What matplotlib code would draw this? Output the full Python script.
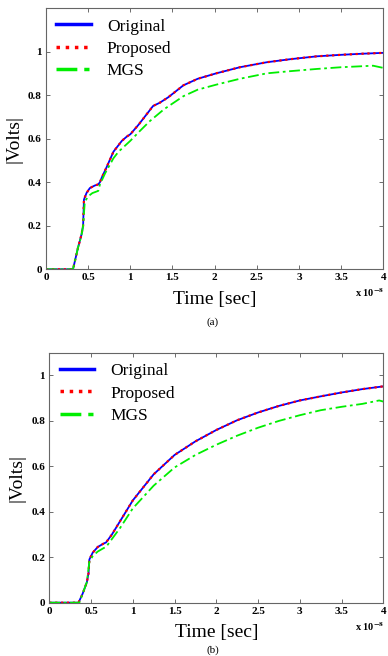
import numpy as np
import matplotlib
matplotlib.use("Agg")
import matplotlib.pyplot as plt

plt.rcParams["font.family"] = ["Liberation Serif", "DejaVu Serif"]
plt.rcParams["mathtext.fontset"] = "stix"

# ===== panel (a) =====
t_a_orig = [0, 0.32, 0.35, 0.38, 0.42, 0.44, 0.45, 0.48, 0.52, 0.58, 0.62, 0.64, 0.66, 0.72,
            0.8, 0.9, 0.96, 1.0, 1.1, 1.2, 1.27, 1.35, 1.45, 1.63, 1.8, 2.02, 2.3, 2.62, 2.9,
            3.21, 3.5, 3.75, 4.0]
v_a_orig = [0, 0, 0.05, 0.10, 0.158, 0.2, 0.32, 0.35, 0.373, 0.385, 0.39, 0.40, 0.42, 0.47,
            0.54, 0.59, 0.61, 0.62, 0.665, 0.715, 0.75, 0.765, 0.79, 0.845, 0.875, 0.90, 0.928,
            0.951, 0.965, 0.978, 0.985, 0.99, 0.994]
t_a_mgs = [0, 0.32, 0.35, 0.38, 0.42, 0.44, 0.46, 0.5, 0.55, 0.62, 0.64, 0.7, 0.8, 0.86, 1.0,
           1.1, 1.23, 1.4, 1.63, 1.8, 2.02, 2.3, 2.62, 2.9, 3.21, 3.5, 3.88, 4.0]
v_a_mgs = [0, 0, 0.05, 0.10, 0.155, 0.2, 0.31, 0.335, 0.35, 0.36, 0.39, 0.44, 0.51, 0.54, 0.59,
           0.63, 0.68, 0.735, 0.795, 0.825, 0.848, 0.875, 0.90, 0.91, 0.92, 0.928, 0.935, 0.925]

# ===== panel (b) =====
t_b_orig = [0, 0.35, 0.4, 0.45, 0.47, 0.48, 0.52, 0.58, 0.65, 0.68, 0.75, 0.85, 1.0, 1.25, 1.5,
            1.75, 2.0, 2.25, 2.5, 2.75, 3.0, 3.25, 3.5, 3.75, 4.0]
v_b_orig = [0, 0, 0.04, 0.09, 0.13, 0.19, 0.22, 0.245, 0.26, 0.265, 0.3, 0.36, 0.45, 0.565, 0.65,
            0.71, 0.76, 0.803, 0.837, 0.866, 0.89, 0.908, 0.925, 0.94, 0.952]
t_b_mgs = [0, 0.36, 0.4, 0.45, 0.48, 0.52, 0.58, 0.65, 0.68, 0.75, 0.85, 1.0, 1.25, 1.5, 1.75,
           2.0, 2.25, 2.5, 2.75, 3.0, 3.25, 3.5, 3.75, 3.95, 4.0]
v_b_mgs = [0, 0, 0.04, 0.09, 0.18, 0.205, 0.225, 0.24, 0.245, 0.28, 0.33, 0.415, 0.515, 0.595,
           0.65, 0.695, 0.735, 0.77, 0.8, 0.825, 0.847, 0.862, 0.875, 0.89, 0.885]

xticks = [0, 0.5, 1, 1.5, 2, 2.5, 3, 3.5, 4]
xticklabels = ["0", "0.5", "1", "1.5", "2", "2.5", "3", "3.5", "4"]
yticks = [0, 0.2, 0.4, 0.6, 0.8, 1]
yticklabels = ["0", "0.2", "0.4", "0.6", "0.8", "1"]


def draw(ax, t_o, v_o, t_m, v_m, ytop):
    ax.plot(t_o, v_o, "-", color="#0000ff", lw=1.3, label="Original")
    ax.plot(t_o, v_o, ":", color="#ff0000", lw=1.6, label="Proposed")
    ax.plot(t_m, v_m, color="#00ee00", lw=1.3, dashes=(6, 2, 1.5, 2), label="MGS")
    ax.set_xlim(0, 4)
    ax.set_ylim(0, ytop)
    ax.set_xticks(xticks)
    ax.set_xticklabels(xticklabels, fontsize=8, fontweight="bold")
    ax.set_yticks(yticks)
    ax.set_yticklabels(yticklabels, fontsize=8, fontweight="bold")
    ax.tick_params(direction="in", top=True, right=True, length=3, width=0.6,
                   color="#555555", pad=3)
    for s in ax.spines.values():
        s.set_color("#666666")
        s.set_linewidth(0.8)
    ax.set_ylabel("|Volts|", fontsize=14, labelpad=4)
    ax.set_xlabel("Time [sec]", fontsize=14, labelpad=6)
    leg = ax.legend(loc="upper left", frameon=False, fontsize=12.5, handlelength=2.0,
                    labelspacing=0.35, handletextpad=0.9, borderaxespad=0.4,
                    borderpad=0.2)
    for line in leg.get_lines():
        line.set_linewidth(2.5)


fig = plt.figure(figsize=(3.88, 6.56), dpi=100)
ax1 = fig.add_axes([0.1186, 0.5895, 0.869, 0.3983])
ax2 = fig.add_axes([0.127, 0.0813, 0.861, 0.381])

draw(ax1, t_a_orig, v_a_orig, t_a_mgs, v_a_mgs, 1.2)
draw(ax2, t_b_orig, v_b_orig, t_b_mgs, v_b_mgs, 1.1)

fig.text(0.99, 1 - 293 / 656, r"x 10$^{\mathbf{-8}}$", fontsize=7.5, fontweight="bold",
         ha="right", va="center")
fig.text(0.99, 1 - 627 / 656, r"x 10$^{\mathbf{-8}}$", fontsize=7.5, fontweight="bold",
         ha="right", va="center")
fig.text(213 / 388, 1 - 322 / 656, "(a)", fontsize=8, ha="center", va="center")
fig.text(213 / 388, 1 - 650 / 656, "(b)", fontsize=8, ha="center", va="center")

fig.savefig("out.png", dpi=100)
